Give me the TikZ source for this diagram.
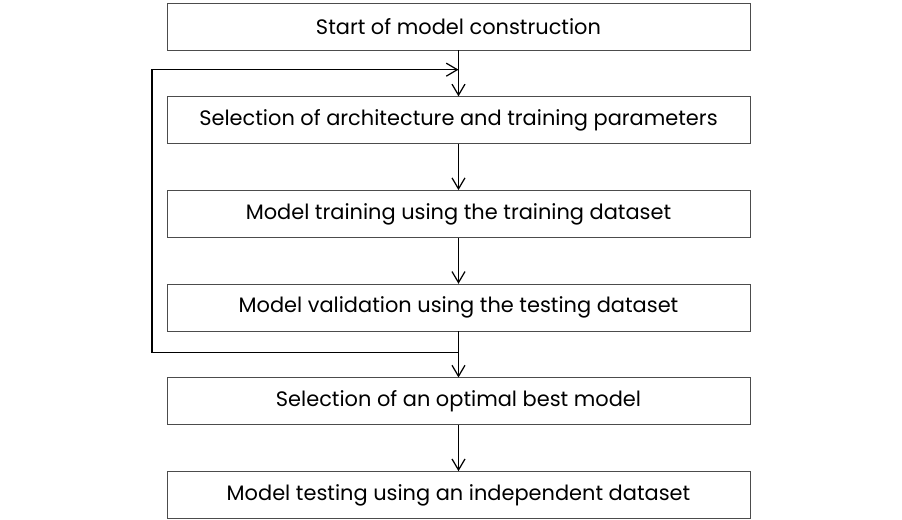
\documentclass[tikz,border=0pt]{standalone}
\usepackage{fontspec}
\setmainfont{Poppins}
\usetikzlibrary{positioning,arrows.meta,calc}

\begin{document}
\begin{tikzpicture}[
    stepbox/.style={draw=black!70,minimum width=11.66cm,minimum height=0.94cm,inner sep=0pt,font=\fontsize{11.9}{14}\selectfont},
    flow/.style={-{Straight Barb[length=0.22cm,width=0.26cm]},line width=0.7pt},
    node distance=0.92cm
  ]
      \useasboundingbox (-9.17,0.53) rectangle (8.87,-9.85);
      \node [stepbox] (start) at (0,0) {Start of model construction};
      \node [stepbox,below=of start] (select) {Selection of architecture and training parameters};
      \node [stepbox,below=of select] (train) {Model training using the training dataset};
      \node [stepbox,below=of train] (valid) {Model validation using the testing dataset};
      \node [stepbox,below=of valid] (best) {Selection of an optimal best model};
      \node [stepbox,below=of best] (test) {Model testing using an independent dataset};
      \draw [flow] (start) -- (select);
      \draw [flow] (select) -- (train);
      \draw [flow] (train) -- (valid);
      \draw [flow] (valid) -- (best);
      \draw [flow] (best) -- (test);
      % feedback loop
      \coordinate (loopin) at ($(start.south)!0.42!(select.north)$);
      \coordinate (loopout) at ($(valid.south)!0.46!(best.north)$);
      \draw [flow] (loopout) -- ++(-6.13,0) |- (loopin);
    \end{tikzpicture}
\end{document}
